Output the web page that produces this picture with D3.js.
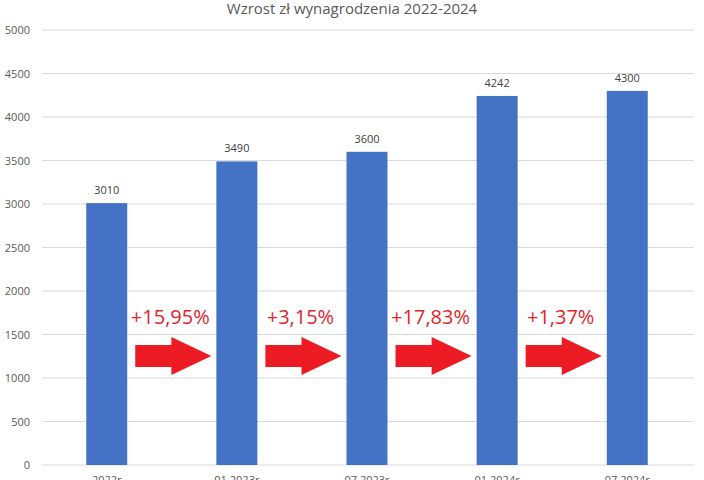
<!DOCTYPE html><html><head><meta charset="utf-8"><script src="https://cdn.jsdelivr.net/npm/d3@7"></script>
<style>body{margin:0;background:#fff}text{font-family:"Open Sans","Noto Sans",sans-serif}</style></head><body>
<svg id="c" width="704" height="480"></svg>
<script>
const categories=["2022r","01.2023r","07.2023r","01.2024r","07.2024r"];
const values=[3010,3490,3600,4242,4300];
const changes=["+15,95%","+3,15%","+17,83%","+1,37%"];
const yTicks=[0,500,1000,1500,2000,2500,3000,3500,4000,4500,5000];
const svg=d3.select("#c");
const x=d3.scaleBand().domain(categories).range([42,692]).paddingInner(0.685).paddingOuter(0.34);
const y=d3.scaleLinear().domain([0,5000]).range([465,30]);
svg.append("g").selectAll("line").data(yTicks).join("line")
 .attr("x1",42).attr("x2",694).attr("y1",d=>y(d)).attr("y2",d=>y(d)).attr("stroke","#d9d9d9");
svg.append("g").selectAll("text").data(yTicks).join("text")
 .attr("x",30).attr("y",d=>y(d)+4).attr("text-anchor","end").attr("font-size",11).attr("fill","#595959").text(d=>d);
svg.append("g").selectAll("rect").data(values).join("rect")
 .attr("x",(d,i)=>x(categories[i])).attr("width",x.bandwidth()).attr("y",d=>y(d)).attr("height",d=>y(0)-y(d)).attr("fill","#4472c4");
svg.append("g").selectAll("text").data(values).join("text")
 .attr("x",(d,i)=>x(categories[i])+x.bandwidth()/2).attr("y",d=>y(d)-9).attr("text-anchor","middle").attr("font-size",11).attr("fill","#404040").text(d=>d);
svg.append("g").selectAll("text").data(categories).join("text")
 .attr("x",d=>x(d)+x.bandwidth()/2).attr("y",484).attr("text-anchor","middle").attr("font-size",11).attr("fill","#595959").text(d=>d);
svg.append("text").attr("x",352).attr("y",14).attr("text-anchor","middle").attr("font-size",15).attr("fill","#595959").text("Wzrost zł wynagrodzenia 2022-2024");
const g=svg.append("g");
changes.forEach((c,i)=>{
  const x0=x(categories[i])+x.bandwidth()+8, x1=x(categories[i+1])-5;
  g.append("text").attr("x",(x0+x1)/2-3).attr("y",324).attr("text-anchor","middle").attr("font-size",20).attr("fill","#e0262b").text(c);
  const p=[[x0,345],[x1-40,345],[x1-40,337],[x1,356],[x1-40,375],[x1-40,367],[x0,367]];
  g.append("path").attr("d","M"+p.join("L")+"Z").attr("fill","#ed1c24");
});
</script></body></html>
